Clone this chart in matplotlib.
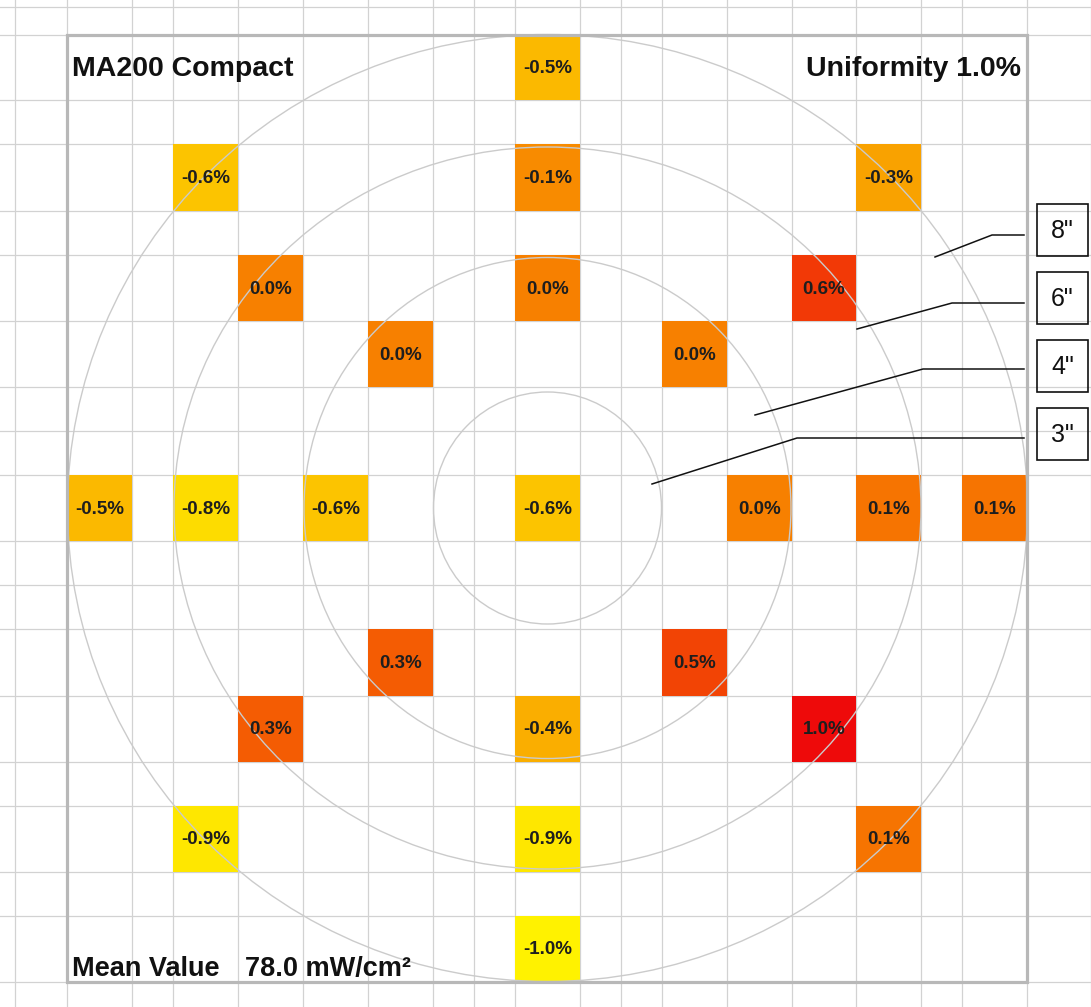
import matplotlib
matplotlib.use("Agg")
import matplotlib.pyplot as plt
from matplotlib.patches import Rectangle, Ellipse
from matplotlib.colors import LinearSegmentedColormap, Normalize

plt.rcParams['font.family'] = ['Liberation Sans', 'DejaVu Sans']

# measured deviation from mean (%) and the sheet cell (col, row) of each point
values = [-0.5, -0.6, -0.1, -0.3, 0.0, 0.0, 0.6, 0.0, 0.0,
          -0.5, -0.8, -0.6, -0.6, 0.0, 0.1, 0.1,
          0.3, 0.5, 0.3, -0.4, 1.0, -0.9, -0.9, 0.1, -1.0]
cols = [9, 3, 9, 15, 4, 9, 14, 6, 12,
        1, 3, 5, 9, 13, 15, 17,
        6, 12, 4, 9, 14, 3, 9, 15, 9]
rows = [1, 3, 3, 3, 5, 5, 5, 6, 6,
        9, 9, 9, 9, 9, 9, 9,
        12, 12, 13, 13, 13, 15, 15, 15, 9 + 8]

model = "MA200 Compact"
uniformity = 1.0
mean_value = 78.0
ring_labels = ['8"', '6"', '4"', '3"']

# sheet layout (pixels)
col_edges = [15, 67, 132, 173, 238, 303, 368, 433, 474, 515, 580, 621, 662,
             727, 792, 856, 921, 962, 1027, 1091]
row_edges = [7, 35, 100, 144, 211, 255, 321, 387, 431, 475, 541, 585, 629,
             696, 762, 806, 872, 916, 982, 1048]
W, H = 1091, 1007

fig = plt.figure(figsize=(W / 100, H / 100), dpi=100)
ax = fig.add_axes([0, 0, 1, 1])
ax.set_xlim(0, W)
ax.set_ylim(H, 0)
ax.axis('off')

grid_c = '#d2d2d2'
for x in col_edges:
    ax.axvline(x, color=grid_c, lw=0.9, zorder=1)
for y in row_edges:
    ax.axhline(y, color=grid_c, lw=0.9, zorder=1)

cmap = LinearSegmentedColormap.from_list('yr', ['#fff200', '#f78000', '#ee0a0a'])
norm = Normalize(-1.0, 1.0)

for v, c, r in zip(values, cols, rows):
    x0, x1 = col_edges[c], col_edges[c + 1]
    y0, y1 = row_edges[r], row_edges[r + 1]
    ax.add_patch(Rectangle((x0, y0), x1 - x0, y1 - y0, facecolor=cmap(norm(v)),
                           edgecolor='none', zorder=2))
    ax.text((x0 + x1) / 2, (y0 + y1) / 2 + 1, f"{v:.1f}%", ha='center', va='center',
            fontsize=13.5, fontweight='bold', color='#1e1e1e', zorder=4)

# wafer outlines
cx, cy = (col_edges[9] + col_edges[10]) / 2, (row_edges[9] + row_edges[10]) / 2
ring_sizes = [(960, 947), (747, 722), (487, 501), (228, 232)]
for w, h in ring_sizes:
    ax.add_patch(Ellipse((cx, cy), w, h, fill=False, edgecolor='#cbcbcb', lw=1.0, zorder=3))

# frame
ax.add_patch(Rectangle((col_edges[1], row_edges[1]), col_edges[18] - col_edges[1],
                       row_edges[18] - row_edges[1], fill=False, edgecolor='#b8b8b8',
                       lw=2.3, zorder=5))

ax.text(72, 69, model, ha='left', va='center', fontsize=20.5, fontweight='bold',
        color='#111111', zorder=6)
ax.text(1021, 69, f"Uniformity {uniformity:.1f}%", ha='right', va='center',
        fontsize=20.5, fontweight='bold', color='#111111', zorder=6)
ax.text(72, 976, "Mean Value", ha='left', va='baseline', fontsize=19.5,
        fontweight='bold', color='#111111', zorder=6)
ax.text(245, 976, f"{mean_value:.1f} mW/cm²", ha='left', va='baseline', fontsize=19.5,
        fontweight='bold', color='#111111', zorder=6)

# ring labels with leader lines
leaders = [((992, 235), (935, 257)), ((952, 303), (857, 329)),
           ((923, 369), (755, 415)), ((797, 438), (652, 484))]
for i, (lab, (knee, tip)) in enumerate(zip(ring_labels, leaders)):
    by = 204 + 68 * i
    ax.add_patch(Rectangle((1037, by), 51, 52, fill=False, edgecolor='#111111',
                           lw=1.2, zorder=6))
    ax.text(1062.5, by + 27, lab, ha='center', va='center', fontsize=18,
            color='#111111', zorder=6)
    ax.plot([1024, knee[0], tip[0]], [knee[1], knee[1], tip[1]], color='#111111',
            lw=1.1, zorder=6)

fig.savefig("out.png", dpi=100, facecolor='white')
